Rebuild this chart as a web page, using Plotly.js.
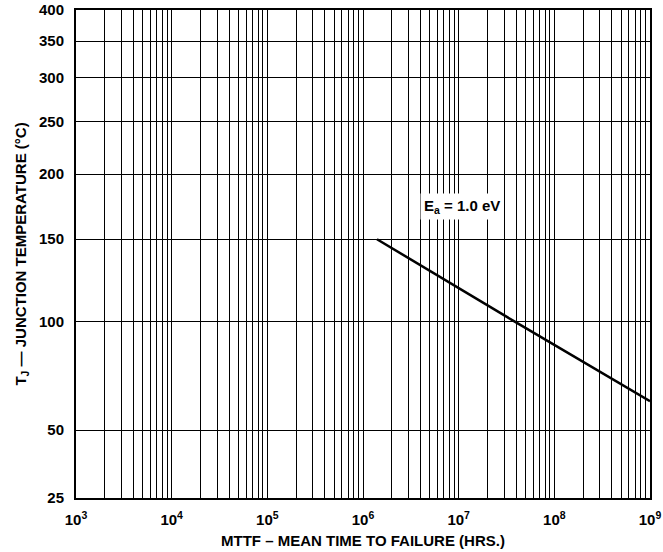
<!DOCTYPE html>
<html>
<head>
<meta charset="utf-8">
<script src="https://cdn.plot.ly/plotly-3.0.1.min.js"></script>
<style>
html,body{margin:0;padding:0;background:#fff;}
#chart{width:663px;height:552px;}
</style>
</head>
<body>
<div id="chart"></div>
<script>
// Data
const mttfHours = [1.4e6, 3.9e7, 1e9];
const junctionTempC = [150, 100, 62];
const seriesLabel = "E<sub>a</sub> = 1.0 eV";

// Axis ticks
const tempTicks = [25, 50, 100, 150, 200, 250, 300, 350, 400];
const decadeExponents = [3, 4, 5, 6, 7, 8, 9];

// Arrhenius (reciprocal absolute temperature) scale for the y axis
const toY = t => -1000 / (t + 273.15);

const xTickVals = decadeExponents.map(e => Math.pow(10, e));
const xTickText = decadeExponents.map(e => "10<sup>" + e + "</sup>");
const xMinorVals = [];
decadeExponents.slice(0, -1).forEach(e => {
  for (let m = 2; m <= 9; m++) xMinorVals.push(m * Math.pow(10, e));
});

const font = {family: "Arial, Liberation Sans, sans-serif", color: "#000"};

const trace = {
  x: mttfHours,
  y: junctionTempC.map(toY),
  type: "scatter",
  mode: "lines",
  line: {color: "#000", width: 2.5},
  hoverinfo: "skip",
  showlegend: false
};

const layout = {
  width: 663, height: 552,
  margin: {l: 76, r: 13, t: 10, b: 54},
  paper_bgcolor: "#fff", plot_bgcolor: "#fff",
  font: Object.assign({size: 13}, font),
  xaxis: {
    type: "log",
    range: [3, 9],
    tickmode: "array",
    tickvals: xTickVals,
    ticktext: xTickText,
    tickangle: 0,
    showgrid: true, gridcolor: "#000", gridwidth: 1,
    minor: {tickmode: "array", tickvals: xMinorVals, showgrid: true, gridcolor: "#000", gridwidth: 1, ticks: ""},
    showline: true, linecolor: "#000", linewidth: 2, mirror: true,
    ticks: "", zeroline: false,
    ticklabelstandoff: 7,
    tickfont: Object.assign({size: 15, weight: 700}, font),
    title: {text: "MTTF – MEAN TIME TO FAILURE (HRS.)", font: Object.assign({size: 15, weight: 700}, font), standoff: 8}
  },
  yaxis: {
    range: [toY(25), toY(400)],
    tickmode: "array",
    tickvals: tempTicks.map(toY),
    ticktext: tempTicks.map(String),
    showgrid: true, gridcolor: "#000", gridwidth: 1,
    showline: true, linecolor: "#000", linewidth: 2, mirror: true,
    ticks: "", zeroline: false,
    ticklabelstandoff: 7,
    tickfont: Object.assign({size: 15, weight: 700}, font),
    title: {text: "T<sub>J</sub> — JUNCTION TEMPERATURE (°C)", font: Object.assign({size: 15, weight: 700}, font), standoff: 9}
  },
  annotations: [{
    xref: "paper", yref: "paper",
    x: 0.672, y: 0.598,
    xanchor: "center", yanchor: "middle",
    text: seriesLabel,
    showarrow: false,
    bgcolor: "#fff",
    borderpad: 3,
    font: Object.assign({size: 15, weight: 700}, font)
  }]
};

Plotly.newPlot("chart", [trace], layout, {displayModeBar: false, staticPlot: true});
</script>
</body>
</html>
